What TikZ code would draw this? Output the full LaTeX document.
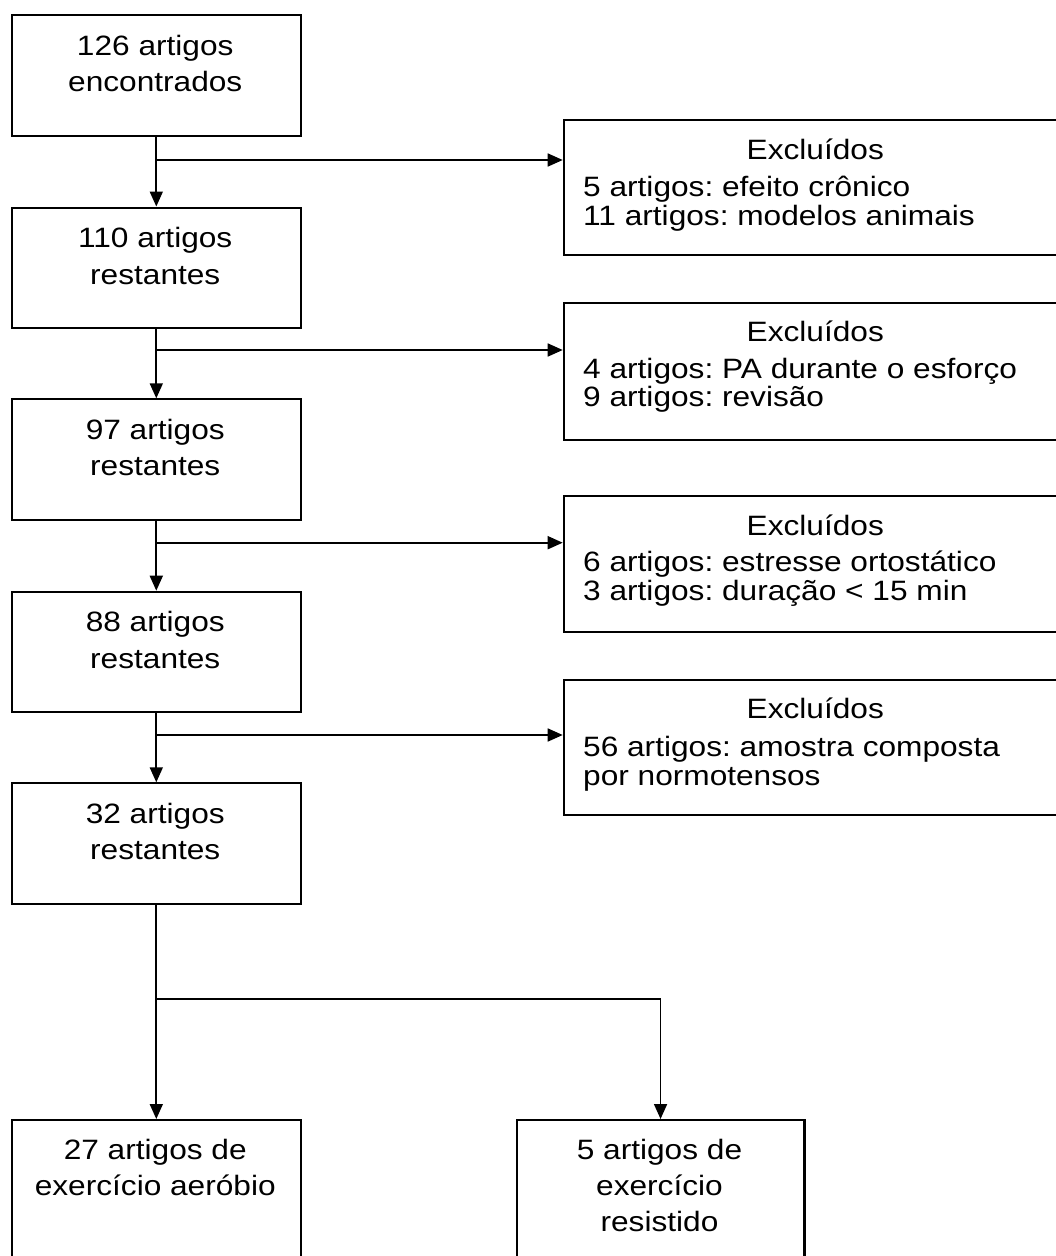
\documentclass[tikz,border=0pt]{standalone}
\usepackage{fontspec}
\setmainfont[FakeStretch=1.13]{Liberation Sans}
\usetikzlibrary{arrows.meta}
\frenchspacing
\begin{document}
\begin{tikzpicture}[x=1pt,y=-1pt,
  box/.style={draw, line width=2.1pt, rectangle, inner sep=0pt, anchor=north west},
  lbox/.style={box, minimum width=288.5pt, minimum height=120.5pt},
  rbox/.style={box, minimum width=510pt, minimum height=#1},
  txt/.style={inner sep=0pt, font=\fontsize{28}{34}\selectfont},
  ctxt/.style={txt, anchor=base},
  ltxt/.style={txt, anchor=base west},
  conn/.style={line width=1.7pt},
  arr/.style={conn, -{Triangle[length=15pt,width=13pt]}}
]
\useasboundingbox (0,0) rectangle (1056,1256);
\fill[white] (0,0) rectangle (1056,1256);
\clip (0,0) rectangle (1056,1256);

% left column boxes
\node[lbox] (b1) at (11,14) {};
\node[lbox] (b2) at (11,206.5) {};
\node[lbox] (b3) at (11,398.3) {};
\node[lbox] (b4) at (11,590.7) {};
\node[lbox] (b5) at (11,782.3) {};
\node[lbox, minimum height=170pt] (c1) at (11,1119) {};
\node[lbox, minimum width=287.8pt, minimum height=170pt] (c2) at (515.6,1119) {};

% right exclusion boxes
\node[rbox=135.3pt] (a1) at (562.7,119) {};
\node[rbox=136.7pt] (a2) at (562.7,302.3) {};
\node[rbox=136pt] (a3) at (562.7,494.7) {};
\node[rbox=135.3pt] (a4) at (562.7,679) {};

% texts left
\node[ctxt] (t1a) at (155.25,55) {126 artigos};
\node[ctxt] (t1b) at (155.25,91.5) {encontrados};
\node[ctxt] (t2a) at (155.25,247.5) {110 artigos};
\node[ctxt] (t2b) at (155.25,284) {restantes};
\node[ctxt] (t3a) at (155.25,439.3) {97 artigos};
\node[ctxt] (t3b) at (155.25,475.8) {restantes};
\node[ctxt] (t4a) at (155.25,631.7) {88 artigos};
\node[ctxt] (t4b) at (155.25,668.2) {restantes};
\node[ctxt] (t5a) at (155.25,823.3) {32 artigos};
\node[ctxt] (t5b) at (155.25,859.8) {restantes};
\node[ctxt] (t6a) at (155.25,1159.3) {27 artigos de};
\node[ctxt] (t6b) at (155.25,1195) {exercício aeróbio};
\node[ctxt] (t7a) at (659.5,1159.3) {5 artigos de};
\node[ctxt] (t7b) at (659.5,1195) {exercício};
\node[ctxt] (t7c) at (659.5,1231.5) {resistido};

% texts right
\node[ctxt] (e1) at (815.3,159) {Excluídos};
\node[ltxt] (e1a) at (583,196.3) {5 artigos: efeito crônico};
\node[ltxt] (e1b) at (583,225) {11 artigos: modelos animais};
\node[ctxt] (e2) at (815.3,341.7) {Excluídos};
\node[ltxt] (e2a) at (583,378.3) {4 artigos: PA durante o esforço};
\node[ltxt] (e2b) at (583,406.7) {9 artigos: revisão};
\node[ctxt] (e3) at (815.3,535) {Excluídos};
\node[ltxt] (e3a) at (583,571.7) {6 artigos: estresse ortostático};
\node[ltxt] (e3b) at (583,600) {3 artigos: duração < 15 min};
\node[ctxt] (e4) at (815.3,718.3) {Excluídos};
\node[ltxt] (e4a) at (583,756.7) {56 artigos: amostra composta};
\node[ltxt] (e4b) at (583,785) {por normotensos};

% connectors
\draw[arr] (b1.south) -- (b2.north);
\draw[arr] (b2.south) -- (b3.north);
\draw[arr] (b3.south) -- (b4.north);
\draw[arr] (b4.south) -- (b5.north);
\draw[arr] (b5.south) -- (c1.north);
\coordinate (j1) at (155.25,160);
\coordinate (j2) at (155.25,350);
\coordinate (j3) at (155.25,542.7);
\coordinate (j4) at (155.25,735);
\coordinate (j5) at (155.25,999);
\draw[arr] (j1) -- (j1 -| a1.west);
\draw[arr] (j2) -- (j2 -| a2.west);
\draw[arr] (j3) -- (j3 -| a3.west);
\draw[arr] (j4) -- (j4 -| a4.west);
\draw[arr] (j5) -| (c2.north);
\end{tikzpicture}
\end{document}
